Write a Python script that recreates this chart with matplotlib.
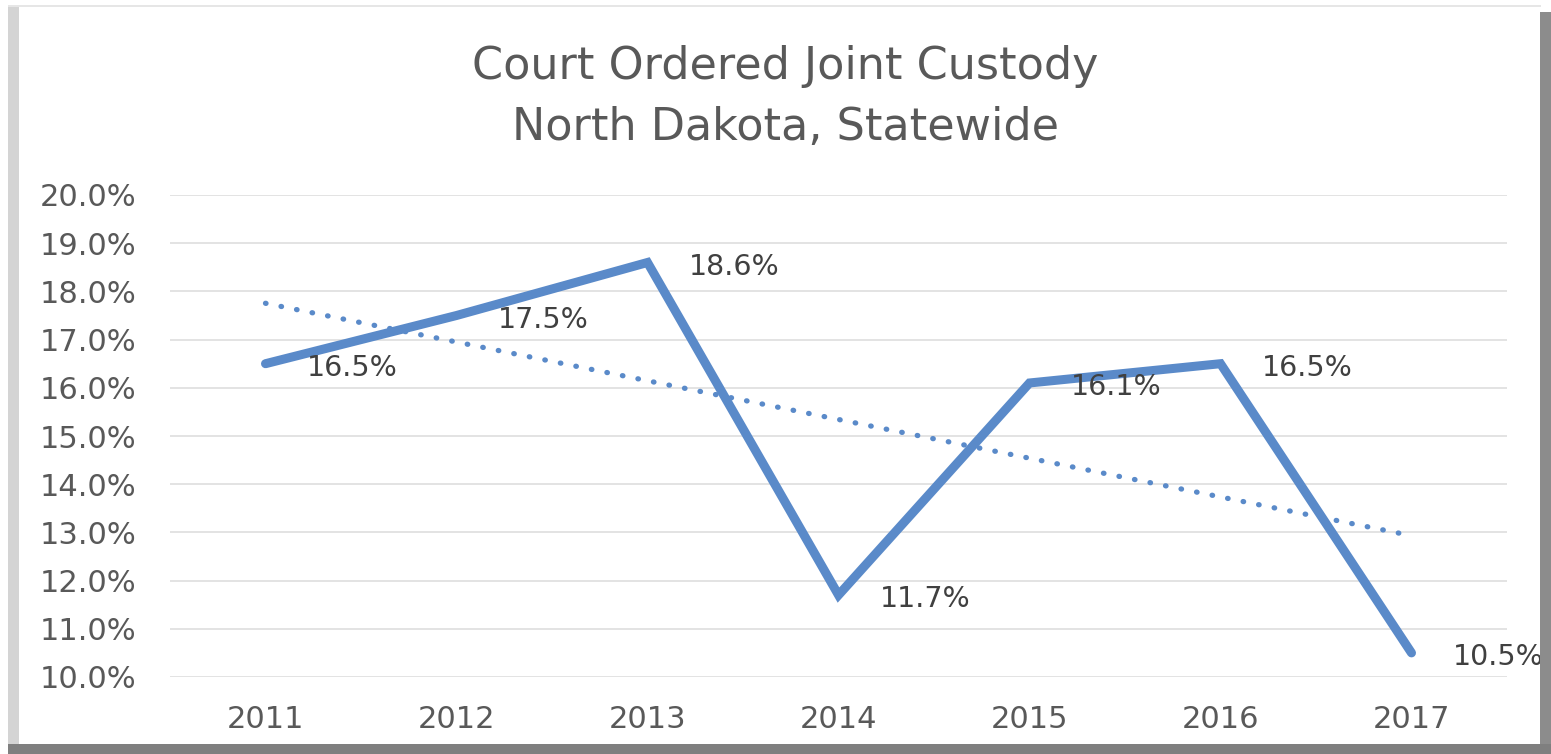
import numpy as np
import matplotlib
matplotlib.use("Agg")
from matplotlib import pyplot as plt
from matplotlib.patches import Rectangle

# data
years = ["2011", "2012", "2013", "2014", "2015", "2016", "2017"]
custody_pct = [16.5, 17.5, 18.6, 11.7, 16.1, 16.5, 10.5]
y_ticks = [10, 11, 12, 13, 14, 15, 16, 17, 18, 19, 20]

plt.rcParams['font.family'] = ['DejaVu Sans']

W, H = 1551, 754
fig = plt.figure(figsize=(W / 100, H / 100), dpi=100)

# frame around the chart (light left/top edge, dark shadow right/bottom)
fig.patches.append(Rectangle((8 / W, 0), 11 / W, 1 - 5 / H, transform=fig.transFigure,
                             facecolor="#d4d4d4", edgecolor="none"))
fig.patches.append(Rectangle((8 / W, 1 - 7 / H), 1 - 18 / W, 2 / H, transform=fig.transFigure,
                             facecolor="#e6e6e6", edgecolor="none"))
fig.patches.append(Rectangle((1 - 11 / W, 0), 11 / W, 1 - 12 / H, transform=fig.transFigure,
                             facecolor="#8c8c8c", edgecolor="none"))
fig.patches.append(Rectangle((8 / W, 0), 1 - 8 / W, 10 / H, transform=fig.transFigure,
                             facecolor="#7f7f7f", edgecolor="none"))

ax = fig.add_axes([170 / W, 1 - 677 / H, (1507 - 170) / W, (677 - 195) / H])
x = np.arange(len(years))

# linear trend line fitted to the series
slope, intercept = np.polyfit(x, custody_pct, 1)
ax.plot(x, slope * x + intercept, color="#5a8ac9", lw=3.8, linestyle=(0, (0.1, 2.9)),
        dash_capstyle="round", zorder=2)

ax.plot(x, custody_pct, color="#5a8ac9", lw=6.5, solid_capstyle="round",
        solid_joinstyle="miter", zorder=3)

for xi, v in zip(x, custody_pct):
    ax.annotate(f"{v:.1f}%", (xi, v), xytext=(29.5, -3), textcoords="offset points",
                ha="left", va="center", fontsize=20.5, color="#404040", zorder=4)

ax.set_xlim(-0.5, len(years) - 0.5)
ax.set_ylim(10, 20)
ax.set_yticks(y_ticks)
ax.set_yticklabels([f"{t:.1f}%" for t in y_ticks])
ax.set_xticks(x)
ax.set_xticklabels(years)
ax.tick_params(length=0, labelsize=22, labelcolor="#595959")
ax.tick_params(axis="y", pad=24)
ax.tick_params(axis="x", pad=20)
ax.grid(axis="y", color="#dedede", lw=1.2)
ax.set_axisbelow(True)
for s in ax.spines.values():
    s.set_visible(False)

fig.text(785 / W, 1 - 79 / H, "Court Ordered Joint Custody", ha="center", va="baseline",
         fontsize=32, color="#595959")
fig.text(785 / W, 1 - 140 / H, "North Dakota, Statewide", ha="center", va="baseline",
         fontsize=32, color="#595959")

fig.savefig("out.png", dpi=100)
